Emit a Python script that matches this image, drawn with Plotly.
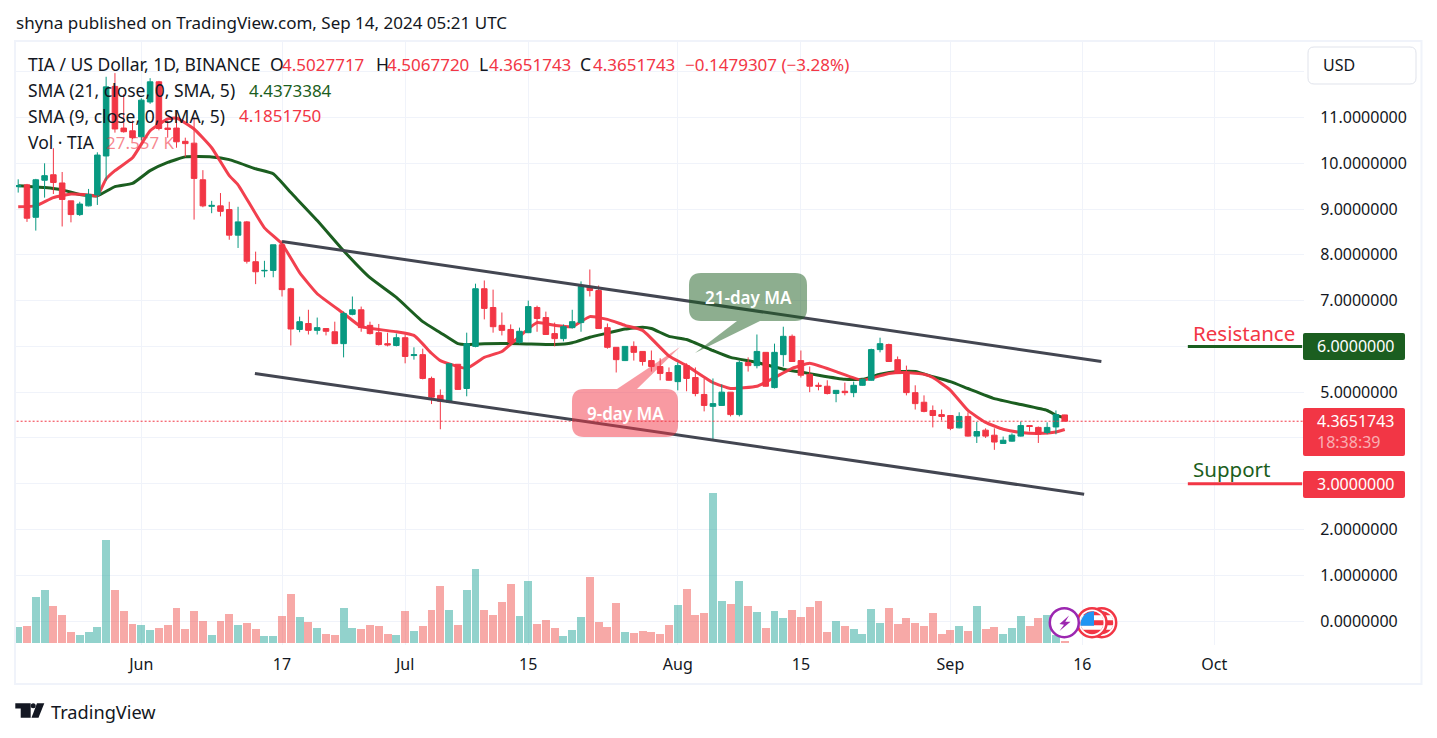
import pandas as pd
import plotly.graph_objects as go

W, H = 1437, 738
FONT = "Noto Sans"
DARK = "#131722"
RED = "#F23645"
GREEN = "#089981"
MA_GREEN = "#1B5E20"
GRID = "#F0F3FA"
TREND = "#434651"

# daily candles, 18 May to 14 Sep 2024
first_day = "2024-05-18"
open_prices = [
    9.49, 9.53, 8.82, 9.63, 9.75, 9.57, 9.18, 8.88, 9.07, 9.31, 10.16, 11.68, 10.77, 10.71,
    10.58, 11.34, 11.78, 10.77, 10.77, 10.48, 10.44, 9.64, 9.06, 9.07, 8.99, 8.43, 8.72, 7.85, 7.65, 7.66,
    8.22, 7.26, 6.37, 6.50, 6.35, 6.39, 6.32, 6.06, 6.70, 6.80, 6.46, 6.30, 6.06, 6.02,
    6.19, 5.80, 5.82, 5.30, 4.93, 4.78, 5.61, 5.08, 6.00, 7.26, 6.85, 6.46, 6.37, 6.09, 6.30, 6.85, 6.63,
    6.28, 6.17, 6.41, 6.52, 7.31, 7.22, 6.41, 5.98, 5.69, 6.00, 5.89, 5.69, 5.56, 5.43,
    5.23, 5.58, 5.32, 4.95, 4.69, 4.71, 5.00, 4.51, 5.65, 5.58, 5.87, 5.10, 5.82, 6.22, 5.69, 5.39,
    5.15, 5.13, 4.97, 5.02, 4.99, 5.15, 5.26, 5.93, 6.04, 5.71, 5.43, 4.99, 4.78, 4.60, 4.51,
    4.49, 4.22, 4.47, 4.04, 4.17, 4.06, 3.88, 3.93, 4.04, 4.27, 4.23, 4.12, 4.24, 4.5028,
]
high_prices = [
    9.65, 9.55, 9.66, 10.00, 10.33, 9.81, 9.18, 9.16, 9.44, 10.24, 11.89, 11.97, 11.51, 10.93,
    11.42, 11.86, 11.80, 10.93, 11.11, 10.56, 11.00, 9.85, 9.18, 9.35, 9.16, 9.05, 8.74, 8.07, 7.87, 8.22,
    8.32, 7.28, 6.65, 6.80, 6.63, 6.39, 6.54, 6.76, 7.09, 6.87, 6.54, 6.49, 6.30, 6.28,
    6.26, 5.98, 5.95, 5.34, 5.06, 5.62, 5.61, 6.30, 7.37, 7.44, 7.24, 6.74, 6.48, 6.41, 7.00, 6.89, 6.76,
    6.52, 6.48, 6.80, 7.42, 7.68, 7.33, 6.50, 5.98, 6.00, 6.11, 5.89, 5.91, 5.74, 5.54,
    5.65, 5.63, 5.54, 5.30, 5.30, 5.17, 5.00, 5.69, 5.76, 6.26, 5.87, 6.06, 6.43, 6.26, 5.91, 5.56,
    5.21, 5.26, 5.04, 5.21, 5.23, 5.30, 5.95, 6.19, 6.06, 5.78, 5.58, 5.15, 4.93, 4.71, 4.62,
    4.49, 4.56, 4.56, 4.35, 4.21, 4.21, 4.03, 4.10, 4.36, 4.27, 4.25, 4.34, 4.60, 4.5068,
]
low_prices = [
    9.36, 8.72, 8.53, 9.25, 9.33, 8.62, 8.71, 8.85, 9.06, 9.09, 9.62, 10.67, 10.67, 10.53,
    10.50, 11.30, 10.72, 10.56, 10.34, 10.14, 8.77, 9.04, 8.91, 8.84, 8.33, 8.15, 7.81, 7.36, 7.51, 7.51,
    7.09, 6.02, 6.31, 6.26, 6.26, 6.24, 6.05, 5.76, 6.68, 6.32, 6.26, 6.02, 6.00, 6.00,
    5.63, 5.71, 5.28, 4.74, 4.19, 4.76, 5.05, 4.91, 5.98, 6.59, 6.30, 6.24, 6.02, 6.06, 6.29, 6.32, 6.25,
    6.00, 6.11, 6.39, 6.32, 7.09, 6.38, 5.95, 5.43, 5.68, 5.69, 5.58, 5.45, 5.26, 5.25,
    5.04, 5.02, 4.91, 4.58, 3.95, 4.70, 4.47, 4.47, 5.45, 5.52, 5.12, 5.08, 5.56, 5.66, 5.32, 5.00,
    5.04, 4.95, 4.78, 4.93, 4.89, 5.14, 5.25, 5.87, 5.66, 5.40, 4.93, 4.62, 4.56, 4.23, 4.38,
    4.17, 4.21, 4.03, 3.89, 4.00, 3.74, 3.87, 3.92, 4.03, 4.14, 3.89, 4.08, 4.08, 4.3652,
]
close_prices = [
    9.51, 8.80, 9.64, 9.73, 9.58, 9.21, 8.88, 9.11, 9.32, 10.18, 11.67, 10.75, 10.69, 10.56,
    11.38, 11.78, 10.76, 10.74, 10.47, 10.43, 9.67, 9.07, 9.08, 8.95, 8.43, 8.72, 7.86, 7.63, 7.66, 8.22,
    7.24, 6.38, 6.54, 6.35, 6.41, 6.33, 6.06, 6.72, 6.80, 6.41, 6.28, 6.04, 6.03, 6.19,
    5.78, 5.82, 5.30, 4.89, 4.80, 5.62, 5.06, 6.06, 7.26, 6.83, 6.43, 6.35, 6.09, 6.33, 6.87, 6.61, 6.26,
    6.17, 6.43, 6.54, 7.31, 7.22, 6.39, 5.98, 5.71, 6.00, 5.87, 5.67, 5.56, 5.41, 5.26,
    5.58, 5.30, 4.97, 4.71, 4.75, 5.00, 4.51, 5.65, 5.58, 5.89, 5.13, 5.87, 6.22, 5.67, 5.37, 5.13,
    5.13, 4.97, 5.04, 4.99, 5.15, 5.28, 5.93, 6.06, 5.67, 5.41, 4.99, 4.75, 4.58, 4.49, 4.47,
    4.21, 4.47, 4.04, 4.14, 4.04, 3.91, 3.95, 4.06, 4.27, 4.25, 4.08, 4.23, 4.51, 4.3652,
]
# volume in thousands
volumes = [
    192, 204, 552, 636, 444, 336, 132, 96, 132, 192, 1236, 636, 384, 228,
    216, 156, 180, 216, 420, 168, 384, 264, 96, 264, 348, 216, 240, 168, 84, 84,
    324, 588, 312, 252, 180, 108, 96, 420, 180, 168, 216, 204, 108, 96,
    384, 144, 204, 396, 684, 396, 216, 636, 888, 396, 336, 492, 708, 324, 744, 228, 276,
    180, 84, 156, 312, 792, 252, 192, 480, 132, 120, 144, 132, 108, 216,
    456, 648, 336, 360, 1800, 504, 468, 744, 444, 372, 180, 384, 300, 396, 312, 432,
    504, 132, 264, 204, 168, 108, 408, 240, 420, 228, 300, 240, 204, 360, 108,
    156, 204, 144, 444, 168, 192, 108, 180, 324, 204, 300, 336, 100, 27.557,
]

sma21_dates = [
    "2024-05-18", "2024-05-21", "2024-05-23", "2024-05-25", "2024-05-27", "2024-05-29", "2024-05-31",
    "2024-06-02", "2024-06-04", "2024-06-06", "2024-06-09", "2024-06-11", "2024-06-14", "2024-06-16",
    "2024-06-18", "2024-06-21", "2024-06-24", "2024-06-27", "2024-06-30", "2024-07-03", "2024-07-05",
    "2024-07-07", "2024-07-08", "2024-07-10", "2024-07-14", "2024-07-18", "2024-07-20", "2024-07-22",
    "2024-07-24", "2024-07-26", "2024-07-28", "2024-07-29", "2024-07-31", "2024-08-02", "2024-08-05",
    "2024-08-07", "2024-08-10", "2024-08-13", "2024-08-15", "2024-08-17", "2024-08-20", "2024-08-22",
    "2024-08-24", "2024-08-26", "2024-08-28", "2024-08-30", "2024-09-01", "2024-09-03", "2024-09-06",
    "2024-09-09", "2024-09-12", "2024-09-13", "2024-09-14",
]
sma21_values = [
    9.51, 9.47, 9.42, 9.32, 9.29, 9.49, 9.56,
    9.84, 10.02, 10.14, 10.14, 10.08, 9.88, 9.77,
    9.36, 8.75, 8.09, 7.50, 7.07, 6.54, 6.30,
    6.06, 6.04, 6.06, 6.06, 6.04, 6.08, 6.20,
    6.29, 6.38, 6.42, 6.39, 6.22, 6.15, 5.91,
    5.76, 5.65, 5.50, 5.44, 5.37, 5.28, 5.28,
    5.39, 5.45, 5.45, 5.34, 5.23, 5.08, 4.86,
    4.73, 4.60, 4.50, 4.4373,
]
sma9_dates = [
    "2024-05-18", "2024-05-20", "2024-05-22", "2024-05-24", "2024-05-26", "2024-05-27", "2024-05-28",
    "2024-05-29", "2024-05-31", "2024-06-02", "2024-06-04", "2024-06-05", "2024-06-07", "2024-06-09",
    "2024-06-11", "2024-06-12", "2024-06-15", "2024-06-17", "2024-06-19", "2024-06-21", "2024-06-24",
    "2024-06-26", "2024-06-30", "2024-07-02", "2024-07-04", "2024-07-05", "2024-07-08", "2024-07-10",
    "2024-07-12", "2024-07-14", "2024-07-16", "2024-07-18", "2024-07-20", "2024-07-22", "2024-07-24",
    "2024-07-26", "2024-07-28", "2024-07-31", "2024-08-02", "2024-08-05", "2024-08-07", "2024-08-10",
    "2024-08-12", "2024-08-14", "2024-08-16", "2024-08-19", "2024-08-22", "2024-08-25", "2024-08-27",
    "2024-08-29", "2024-08-30", "2024-09-01", "2024-09-03", "2024-09-05", "2024-09-07", "2024-09-09",
    "2024-09-11", "2024-09-13", "2024-09-14",
]
sma9_values = [
    9.05, 9.07, 9.25, 9.33, 9.31, 9.29, 9.66,
    9.84, 10.12, 10.71, 10.97, 10.99, 10.75, 10.34,
    9.73, 9.53, 8.59, 8.24, 7.61, 7.15, 6.72,
    6.43, 6.32, 6.24, 5.85, 5.69, 5.52, 5.76,
    5.89, 6.22, 6.52, 6.46, 6.43, 6.65, 6.59,
    6.46, 6.35, 5.79, 5.58, 5.21, 5.08, 5.13,
    5.32, 5.52, 5.63, 5.45, 5.26, 5.41, 5.43,
    5.39, 5.32, 5.04, 4.60, 4.34, 4.19, 4.12,
    4.10, 4.13, 4.1852,
]

upper_channel_dates = ["2024-06-17", "2024-09-18 04:00"]
upper_channel_prices = [8.29, 5.67]
lower_channel_dates = ["2024-06-13 22:00", "2024-09-16 05:00"]
lower_channel_prices = [5.41, 2.77]
level_dates = ["2024-09-28", "2024-10-11"]
resistance_level = 6.0
support_level = 3.0
last_price = 4.3651743

price_ticks = list(range(0, 13))
# 3, 4, 6 and 12 are covered by the price tags and the currency button in the original
price_labels = ["" if v in (3, 4, 6, 12) else f"{v:.7f}" for v in price_ticks]
date_ticks = ["2024-06-01", "2024-06-17", "2024-07-01", "2024-07-15", "2024-08-01",
              "2024-08-15", "2024-09-01", "2024-09-16", "2024-10-01"]
date_labels = ["Jun", "17", "Jul", "15", "Aug", "15", "Sep", "16", "Oct"]

days = pd.date_range(first_day, periods=len(close_prices))
assert len(open_prices) == len(high_prices) == len(low_prices) == len(close_prices) == len(volumes) == 120


def px(x):
    return x / W


def py(y):
    return 1 - y / H


def path_of(points):
    return "M " + " L ".join(f"{px(x):.5f},{py(y):.5f}" for x, y in points) + " Z"


def paper_shape(path, fill, line=None, width=0):
    return dict(type="path", xref="paper", yref="paper", path=path, fillcolor=fill,
                line=dict(color=line or "rgba(0,0,0,0)", width=width))


def rounded_path(x0, y0, x1, y1, r, tail_top=None, tail_bottom=None):
    """Rounded box, optionally with a speech bubble tail on its top or bottom edge"""
    def p(x, y):
        return f"{px(x):.5f},{py(y):.5f}"
    d = f"M {p(x0 + r, y0)} "
    if tail_top:
        a, b, tip = tail_top
        d += f"L {p(a, y0)} L {p(*tip)} L {p(b, y0)} "
    d += f"L {p(x1 - r, y0)} Q {p(x1, y0)} {p(x1, y0 + r)} L {p(x1, y1 - r)} Q {p(x1, y1)} {p(x1 - r, y1)} "
    if tail_bottom:
        a, b, tip = tail_bottom
        d += f"L {p(b, y1)} L {p(*tip)} L {p(a, y1)} "
    d += f"L {p(x0 + r, y1)} Q {p(x0, y1)} {p(x0, y1 - r)} L {p(x0, y0 + r)} Q {p(x0, y0)} {p(x0 + r, y0)} Z"
    return d


def circle(cx, cy, r, fill, line=None, width=0):
    return dict(type="circle", xref="paper", yref="paper", x0=px(cx - r), x1=px(cx + r),
                y0=py(cy + r), y1=py(cy - r), fillcolor=fill,
                line=dict(color=line or "rgba(0,0,0,0)", width=width))


def flag_icon(cx, cy):
    blue = f"M {px(cx + 2):.5f},{py(cy - 11.5):.5f} L {px(cx + 2):.5f},{py(cy + 3):.5f} L {px(cx - 11.5):.5f},{py(cy + 3):.5f} " \
           f"Q {px(cx - 11.5):.5f},{py(cy - 10.5):.5f} {px(cx + 2):.5f},{py(cy - 11.5):.5f} Z"
    return [
        circle(cx, cy, 14.5, "white", RED, 2.5),
        circle(cx, cy, 11.5, RED),
        paper_shape(path_of([(cx - 9.5, cy - 7.5), (cx + 9.5, cy - 7.5), (cx + 11.5, cy - 2.5), (cx - 11.5, cy - 2.5)]), "white"),
        paper_shape(path_of([(cx - 11.5, cy + 2.5), (cx + 11.5, cy + 2.5), (cx + 9, cy + 7), (cx - 9, cy + 7)]), "white"),
        paper_shape(blue, "#2196F3"),
    ]


def label(x, y, text, color=DARK, size=17, anchor="left", weight=None):
    return dict(xref="paper", yref="paper", x=px(x), y=py(y), text=text, showarrow=False,
                xanchor=anchor, yanchor="middle", borderpad=0,
                font=dict(family=FONT, size=size, color=color, weight=weight))


fig = go.Figure()

# moving averages sit on the main axis so that the candles are drawn over them
fig.add_trace(go.Scatter(x=sma21_dates, y=sma21_values, mode="lines", name="SMA 21",
                         line=dict(color=MA_GREEN, width=3, shape="spline", smoothing=0.4)))
fig.add_trace(go.Scatter(x=sma9_dates, y=sma9_values, mode="lines", name="SMA 9", opacity=0.95,
                         line=dict(color=RED, width=3, shape="spline", smoothing=0.4)))

fig.add_trace(go.Candlestick(
    x=days, open=open_prices, high=high_prices, low=low_prices, close=close_prices,
    yaxis="y2", whiskerwidth=0, name="TIA",
    increasing=dict(line=dict(color=GREEN, width=1), fillcolor=GREEN),
    decreasing=dict(line=dict(color=RED, width=1), fillcolor=RED),
))

vol_colors = ["rgba(38,166,154,0.5)" if c > o else "rgba(239,83,80,0.5)"
              for o, c in zip(open_prices, close_prices)]
fig.add_trace(go.Bar(x=days, y=volumes, yaxis="y3", marker=dict(color=vol_colors, line_width=0),
                     width=0.9 * 86400000, name="Vol"))

# drawings on top of the candles
fig.add_trace(go.Scatter(x=[days[0] - pd.Timedelta(days=2), "2024-10-12"], y=[last_price, last_price], yaxis="y4",
                         mode="lines", line=dict(color=RED, width=1, dash="2px 2px")))
for d, p in [(upper_channel_dates, upper_channel_prices), (lower_channel_dates, lower_channel_prices)]:
    fig.add_trace(go.Scatter(x=d, y=p, yaxis="y4", mode="lines", line=dict(color=TREND, width=3)))
fig.add_trace(go.Scatter(x=level_dates, y=[resistance_level] * 2, yaxis="y4", mode="lines",
                         line=dict(color=MA_GREEN, width=3)))
fig.add_trace(go.Scatter(x=level_dates, y=[support_level] * 2, yaxis="y4", mode="lines",
                         line=dict(color=RED, width=3)))

shapes = [
    # outer frame
    dict(type="rect", xref="paper", yref="paper", x0=px(15), x1=px(1421.5), y0=py(684), y1=py(41),
         line=dict(color=GRID, width=2), layer="below"),
    # currency button
    dict(type="path", xref="paper", yref="paper", path=rounded_path(1308, 47, 1416, 84, 6),
         fillcolor="white", line=dict(color="#E0E3EB", width=1)),
    # callouts
    dict(type="path", xref="paper", yref="paper",
         path=rounded_path(689, 273, 807, 321, 12, tail_bottom=(737, 760, (695, 353))),
         fillcolor="rgba(27,94,32,0.5)", line=dict(color="rgba(0,0,0,0)", width=0)),
    dict(type="path", xref="paper", yref="paper",
         path=rounded_path(572, 389, 678, 437, 12, tail_top=(617, 637, (680, 347))),
         fillcolor="rgba(242,54,69,0.5)", line=dict(color="rgba(0,0,0,0)", width=0)),
    # price scale tags
    paper_shape(rounded_path(1303, 333, 1405, 360, 2), MA_GREEN),
    paper_shape(rounded_path(1303, 408, 1405, 456, 2), RED),
    paper_shape(rounded_path(1303, 471, 1405, 498, 2), RED),
    # TradingView logo
    paper_shape(path_of([(15.3, 703.3), (30.7, 703.3), (30.7, 717.7), (20.7, 717.7), (20.7, 708.5), (15.3, 708.5)]), DARK),
    circle(33.2, 705.8, 2.5, DARK),
    paper_shape(path_of([(37, 703.3), (44.3, 703.3), (38.5, 717.7), (31.5, 717.7)]), DARK),
]
# event icons near the last bar
shapes += flag_icon(1101.7, 622.7)
shapes += flag_icon(1092, 622.7)
shapes.append(circle(1064.3, 622.7, 14.5, "white", "#9C27B0", 2.5))
shapes.append(paper_shape(path_of([(1069, 615.5), (1059.5, 624), (1064, 624.7), (1059.5, 631), (1070.5, 621.8), (1065.3, 621.8)]), "#9C27B0"))

annotations = [
    label(15, 22, "shyna published on TradingView.com, Sep 14, 2024 05:21 UTC"),
    label(27, 64, "TIA / US Dollar, 1D, BINANCE", size=17.5),
    label(269, 64, "O", size=17.5), label(281, 64, "4.5027717", RED),
    label(375, 64, "H", size=17.5), label(386, 64, "4.5067720", RED),
    label(478, 64, "L", size=17.5), label(488, 64, "4.3651743", RED),
    label(579, 64, "C", size=17.5), label(592, 64, "4.3651743", RED),
    label(684, 64, "−0.1479307 (−3.28%)", RED),
    label(27, 90, "SMA (21, close, 0, SMA, 5)", size=17.5), label(248, 90, "4.4373384", MA_GREEN),
    label(27, 116, "SMA (9, close, 0, SMA, 5)", size=17.5), label(238, 116, "4.1851750", RED),
    label(27, 142, "Vol · TIA", size=17.5), label(105, 142, "27.557 K", "rgba(242,54,69,0.6)"),
    label(1322, 65, "USD", size=16),
    label(748, 297, "21-day MA", "white", 17, "center", 600),
    label(625, 413, "9-day MA", "white", 17, "center", 600),
    label(1192, 333, "Resistance", RED, 20.5),
    label(1192, 469, "Support", MA_GREEN, 20.5),
    label(1316, 346, "6.0000000", "white", 16),
    label(1316, 421, "4.3651743", "white", 16),
    label(1316, 442, "18:38:39", "rgba(255,255,255,0.6)", 16),
    label(1316, 484, "3.0000000", "white", 16),
    label(50, 712, "TradingView", DARK, 18.2),
]

price_range = [(621 - 645) / 45.85, (621 - 41) / 45.85]
hidden_axis = dict(overlaying="y", range=price_range, visible=False, showgrid=False, zeroline=False)

fig.update_layout(
    width=W, height=H, autosize=False,
    margin=dict(l=0, r=0, t=0, b=0),
    paper_bgcolor="white", plot_bgcolor="white",
    showlegend=False, boxgap=0.1, bargap=0,
    font=dict(family=FONT, size=16, color=DARK),
    xaxis=dict(
        domain=[px(16), px(1304)], type="date",
        range=["2024-05-17 18:00", "2024-10-11 05:00"],
        tickvals=date_ticks, ticktext=date_labels, tickangle=0,
        showgrid=True, gridcolor=GRID, gridwidth=1, zeroline=False, showline=False,
        ticks="outside", ticklen=5, tickcolor="rgba(0,0,0,0)",
        rangeslider=dict(visible=False),
        tickfont=dict(family=FONT, size=16, color=DARK),
    ),
    yaxis=dict(
        domain=[py(645), py(42)], range=price_range, side="right",
        tickvals=price_ticks, ticktext=price_labels,
        showgrid=True, gridcolor=GRID, gridwidth=1, zeroline=False, showline=False,
        ticks="outside", ticklen=12, tickcolor="rgba(0,0,0,0)",
        tickfont=dict(family=FONT, size=16, color=DARK),
    ),
    yaxis2=hidden_axis,
    yaxis3=dict(overlaying="y", range=[-24, 7224], visible=False, showgrid=False, zeroline=False),
    yaxis4=hidden_axis,
    shapes=shapes,
    annotations=annotations,
)

fig.write_html("out.html", config=dict(displayModeBar=False),
               post_script="document.body.style.margin='0';document.body.style.overflow='hidden';")
